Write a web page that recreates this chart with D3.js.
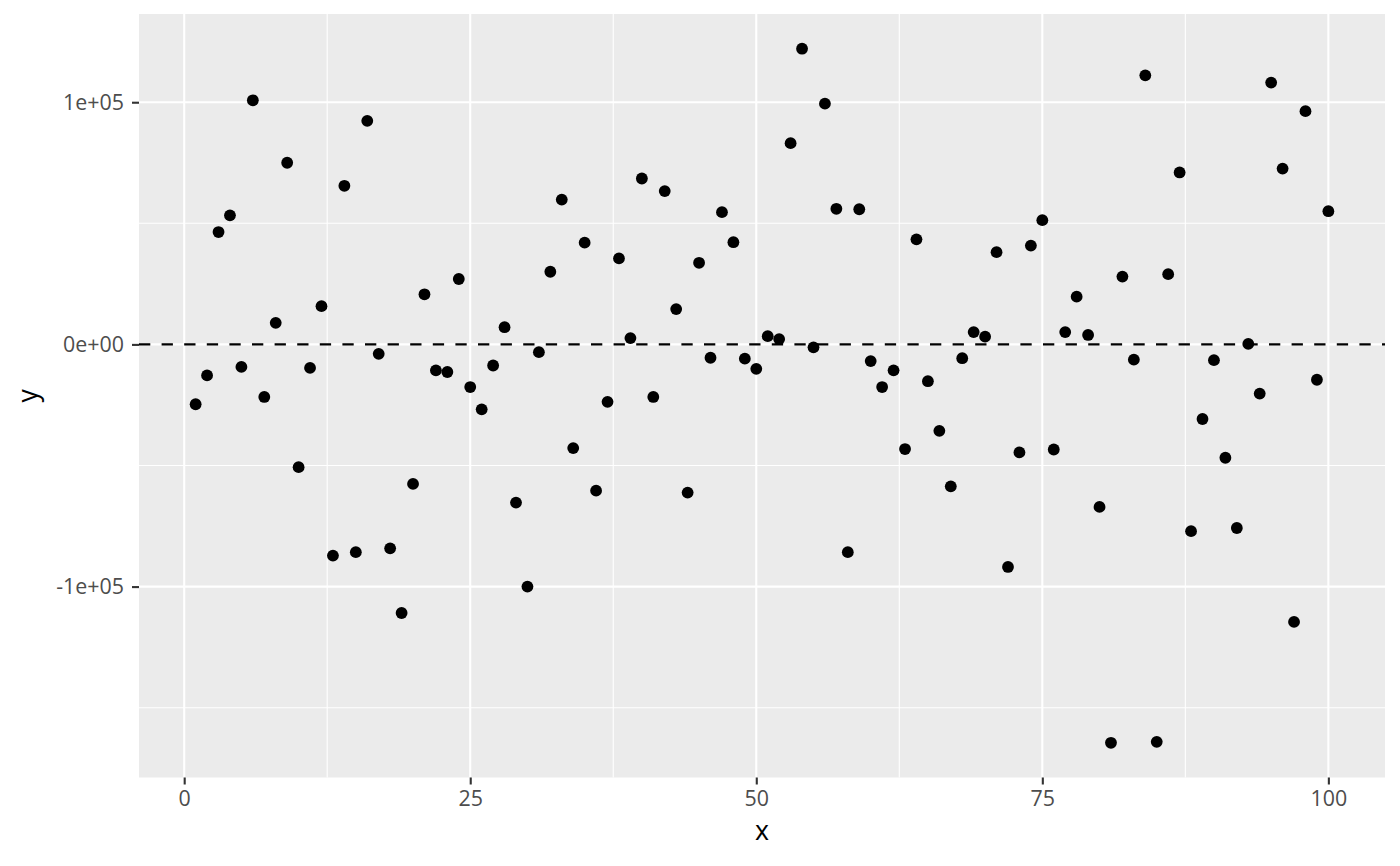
<!DOCTYPE html>
<html>
<head>
<meta charset="utf-8">
<script src="https://cdn.jsdelivr.net/npm/d3@7"></script>
<style>
  html, body { margin: 0; padding: 0; background: #ffffff; }
  svg { display: block; }
</style>
</head>
<body>
<svg id="chart" width="1400" height="866"></svg>
<script>
// ---- data ----
const xValues = d3.range(1, 101);
const yValues = [
  -24700, -12800, 46400, 53300, -9300, 100800, -21700, 8900, 75000, -50700,
  -9700, 15800, -87200, 65500, -85800, 92300, -3900, -84200, -110900, -57600,
  20700, -10700, -11400, 27000, -17600, -26800, -8700, 7100, -65300, -100000,
  -3200, 30000, 59800, -42800, 42000, -60400, -23700, 35500, 2600, 68500,
  -21700, 63300, 14600, -61200, 33700, -5500, 54600, 42200, -5900, -10100,
  3400, 2200, 83100, 122100, -1200, 99400, 56000, -85800, 55800, -6900,
  -17600, -10700, -43200, 43400, -15200, -35700, -58600, -5700, 5100, 3200,
  38100, -91900, -44600, 40800, 51300, -43400, 5100, 19700, 3900, -67100,
  -164500, 28000, -6300, 111100, -164100, 29000, 71000, -77100, -30800, -6500,
  -46800, -75800, 200, -20300, 108100, 72600, -114600, 96300, -14600, 55000
];
const xTicks = [0, 25, 50, 75, 100];
const xMinor = [12.5, 37.5, 62.5, 87.5];
const yTicks = [-100000, 0, 100000];
const yTickLabels = ["-1e+05", "0e+00", "1e+05"];
const yMinor = [-150000, -50000, 50000];
const hline = 0;
const xTitle = "x";
const yTitle = "y";

const points = xValues.map((x, i) => ({ x: x, y: yValues[i] }));

// ---- layout ----
const panel = { left: 139, right: 1385, top: 14, bottom: 777.5 };
const svg = d3.select("#chart");
const font = "'Open Sans', 'Noto Sans', 'DejaVu Sans', sans-serif";

function expand(ext, f) {
  const r = ext[1] - ext[0];
  return [ext[0] - r * f, ext[1] + r * f];
}
const x = d3.scaleLinear().domain(expand(d3.extent(xValues), 0.05)).range([panel.left, panel.right]);
const y = d3.scaleLinear().domain(expand(d3.extent(yValues), 0.05)).range([panel.bottom, panel.top]);

// panel background
svg.append("rect")
  .attr("x", panel.left).attr("y", panel.top)
  .attr("width", panel.right - panel.left).attr("height", panel.bottom - panel.top)
  .attr("fill", "#EBEBEB");

const grid = svg.append("g");
// minor grid
grid.selectAll("line.ymin").data(yMinor).enter().append("line")
  .attr("x1", panel.left).attr("x2", panel.right)
  .attr("y1", d => y(d)).attr("y2", d => y(d))
  .attr("stroke", "#fff").attr("stroke-width", 1.1);
grid.selectAll("line.xmin").data(xMinor).enter().append("line")
  .attr("y1", panel.top).attr("y2", panel.bottom)
  .attr("x1", d => x(d)).attr("x2", d => x(d))
  .attr("stroke", "#fff").attr("stroke-width", 1.1);
// major grid
grid.selectAll("line.ymaj").data(yTicks).enter().append("line")
  .attr("x1", panel.left).attr("x2", panel.right)
  .attr("y1", d => y(d)).attr("y2", d => y(d))
  .attr("stroke", "#fff").attr("stroke-width", 2.1);
grid.selectAll("line.xmaj").data(xTicks).enter().append("line")
  .attr("y1", panel.top).attr("y2", panel.bottom)
  .attr("x1", d => x(d)).attr("x2", d => x(d))
  .attr("stroke", "#fff").attr("stroke-width", 2.1);

// dashed reference line
svg.append("line")
  .attr("x1", panel.left).attr("x2", panel.right)
  .attr("y1", y(hline)).attr("y2", y(hline))
  .attr("stroke", "#000").attr("stroke-width", 2.1)
  .attr("stroke-dasharray", "11.3,11.3");

// points
svg.append("g").selectAll("circle").data(points).enter().append("circle")
  .attr("cx", d => x(d.x)).attr("cy", d => y(d.y))
  .attr("r", 5.9).attr("fill", "#000");

// axes
const xAxis = d3.axisBottom(x).tickValues(xTicks).tickSize(7).tickPadding(6).tickFormat(d3.format("d"));
const gx = svg.append("g").attr("transform", `translate(0,${panel.bottom})`).call(xAxis);
gx.select(".domain").remove();
gx.selectAll(".tick line").attr("stroke", "#333333").attr("stroke-width", 2.1);
gx.selectAll(".tick text").attr("fill", "#4D4D4D").style("font-family", font).style("font-size", "21.4px");

const yAxis = d3.axisLeft(y).tickValues(yTicks).tickSize(7).tickPadding(8)
  .tickFormat((d) => yTickLabels[yTicks.indexOf(d)]);
const gy = svg.append("g").attr("transform", `translate(${panel.left},0)`).call(yAxis);
gy.select(".domain").remove();
gy.selectAll(".tick line").attr("stroke", "#333333").attr("stroke-width", 2.1);
gy.selectAll(".tick text").attr("fill", "#4D4D4D").style("font-family", font).style("font-size", "21.4px");

// axis titles
svg.append("text")
  .attr("x", (panel.left + panel.right) / 2).attr("y", 840)
  .attr("text-anchor", "middle")
  .style("font-family", font).style("font-size", "26.7px").attr("fill", "#000")
  .text(xTitle);
svg.append("text")
  .attr("transform", `translate(37,${(panel.top + panel.bottom) / 2}) rotate(-90)`)
  .attr("text-anchor", "middle")
  .style("font-family", font).style("font-size", "26.7px").attr("fill", "#000")
  .text(yTitle);
</script>
</body>
</html>
